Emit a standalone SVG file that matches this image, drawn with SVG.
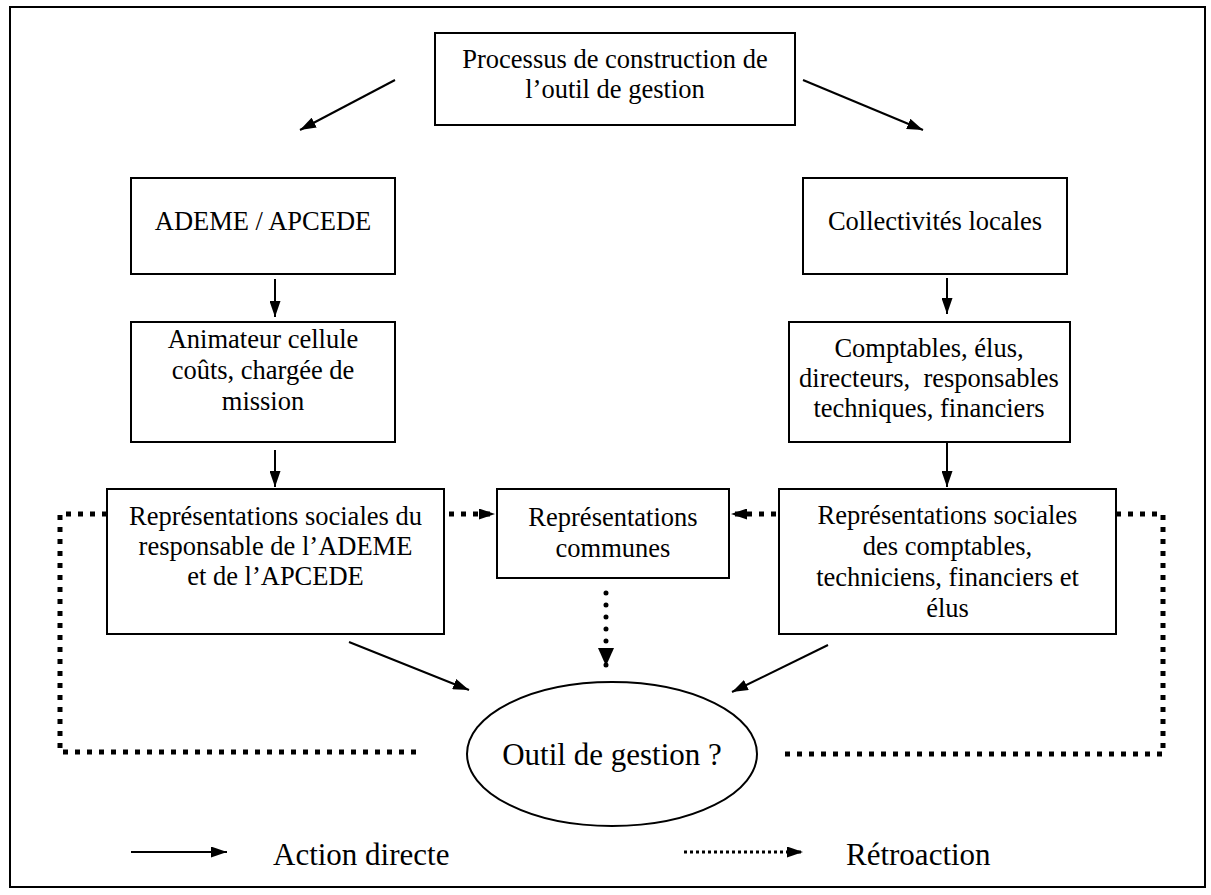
<svg xmlns="http://www.w3.org/2000/svg" width="1211" height="895" viewBox="0 0 1211 895">
<style>
  .box { fill: #fff; stroke: #000; stroke-width: 2; }
  .t { font-family: "Liberation Serif", "Times New Roman", serif; font-size: 26.5px; fill: #000; text-anchor: middle; }
  .tl { font-family: "Liberation Serif", "Times New Roman", serif; font-size: 31px; fill: #000; }
  .solid { fill: none; stroke: #000; stroke-width: 2; }
  .sq { fill: none; stroke: #000; stroke-width: 5; stroke-dasharray: 5 7; }
  .dots { fill: none; stroke: #000; stroke-width: 5; stroke-linecap: round; stroke-dasharray: 0 12; }
  .fine { fill: none; stroke: #000; stroke-width: 3; stroke-dasharray: 3 3; }
</style>
<defs>
  <marker id="ah" viewBox="0 0 16 11" refX="16" refY="5.5" markerWidth="16" markerHeight="11" markerUnits="userSpaceOnUse" orient="auto">
    <path d="M0,0 L16,5.5 L0,11 z" fill="#000"/>
  </marker>
  <marker id="ahb" viewBox="0 0 18 16" refX="18" refY="8" markerWidth="18" markerHeight="16" markerUnits="userSpaceOnUse" orient="auto">
    <path d="M0,0 L18,8 L0,16 z" fill="#000"/>
  </marker>
</defs>

<rect x="10" y="7" width="1195" height="880" fill="none" stroke="#000" stroke-width="2"/>

<g id="n-processus">
  <rect class="box" x="435" y="33" width="360" height="92"/>
  <text class="t" x="615" y="68">Processus de construction de</text>
  <text class="t" x="615" y="98">l’outil de gestion</text>
</g>
<g id="n-ademe">
  <rect class="box" x="131" y="178" width="264" height="96"/>
  <text class="t" x="263" y="230">ADEME / APCEDE</text>
</g>
<g id="n-collectivites">
  <rect class="box" x="803" y="178" width="264" height="96"/>
  <text class="t" x="935" y="230">Collectivités locales</text>
</g>
<g id="n-animateur">
  <rect class="box" x="131" y="322" width="264" height="120"/>
  <text class="t" x="263" y="348">Animateur cellule</text>
  <text class="t" x="263" y="379">coûts, chargée de</text>
  <text class="t" x="263" y="410">mission</text>
</g>
<g id="n-comptables">
  <rect class="box" x="789" y="322" width="281" height="120"/>
  <text class="t" x="929" y="357">Comptables, élus,</text>
  <text class="t" x="929" y="387" xml:space="preserve">directeurs,  responsables</text>
  <text class="t" x="929" y="417">techniques, financiers</text>
</g>
<g id="n-rep-ademe">
  <rect class="box" x="107" y="489" width="337" height="145"/>
  <text class="t" x="275.5" y="525">Représentations sociales du</text>
  <text class="t" x="275.5" y="555">responsable de l’ADEME</text>
  <text class="t" x="275.5" y="585">et de l’APCEDE</text>
</g>
<g id="n-rep-communes">
  <rect class="box" x="497" y="489" width="232" height="89"/>
  <text class="t" x="613" y="526">Représentations</text>
  <text class="t" x="613" y="557">communes</text>
</g>
<g id="n-rep-collectivites">
  <rect class="box" x="779" y="489" width="337" height="145"/>
  <text class="t" x="947.5" y="524">Représentations sociales</text>
  <text class="t" x="947.5" y="555">des comptables,</text>
  <text class="t" x="947.5" y="586">techniciens, financiers et</text>
  <text class="t" x="947.5" y="617">élus</text>
</g>
<g id="n-outil">
  <ellipse class="box" cx="612" cy="754" rx="145" ry="72"/>
  <text class="tl" x="612" y="765" text-anchor="middle">Outil de gestion ?</text>
</g>

<g id="connectors">
  <line class="solid" x1="395" y1="80" x2="300" y2="130" marker-end="url(#ah)"/>
  <line class="solid" x1="803" y1="80" x2="923" y2="130" marker-end="url(#ah)"/>
  <line class="solid" x1="275" y1="279" x2="275" y2="317" marker-end="url(#ah)"/>
  <line class="solid" x1="947" y1="278" x2="947" y2="314" marker-end="url(#ah)"/>
  <line class="solid" x1="275" y1="450" x2="275" y2="487" marker-end="url(#ah)"/>
  <line class="solid" x1="947" y1="442" x2="947" y2="487" marker-end="url(#ah)"/>
  <line class="solid" x1="349" y1="642" x2="469" y2="690" marker-end="url(#ah)"/>
  <line class="solid" x1="828" y1="645" x2="732" y2="692" marker-end="url(#ah)"/>
  <path class="sq" d="M107,514 H60 V752 H420"/>
  <path class="sq" d="M1116,514 H1163 V754 H779"/>
  <line class="sq" x1="449" y1="514" x2="495" y2="514" marker-end="url(#ah)"/>
  <line class="sq" x1="776" y1="514" x2="731" y2="514" marker-end="url(#ah)"/>
  <line class="dots" x1="606" y1="593" x2="606" y2="666" marker-end="url(#ahb)"/>
</g>

<g id="legend">
  <line class="solid" x1="131" y1="852" x2="227" y2="852" marker-end="url(#ah)"/>
  <text class="tl" x="273" y="865">Action directe</text>
  <line class="fine" x1="684" y1="852" x2="803" y2="852" marker-end="url(#ah)"/>
  <text class="tl" x="846" y="865">Rétroaction</text>
</g>
</svg>
